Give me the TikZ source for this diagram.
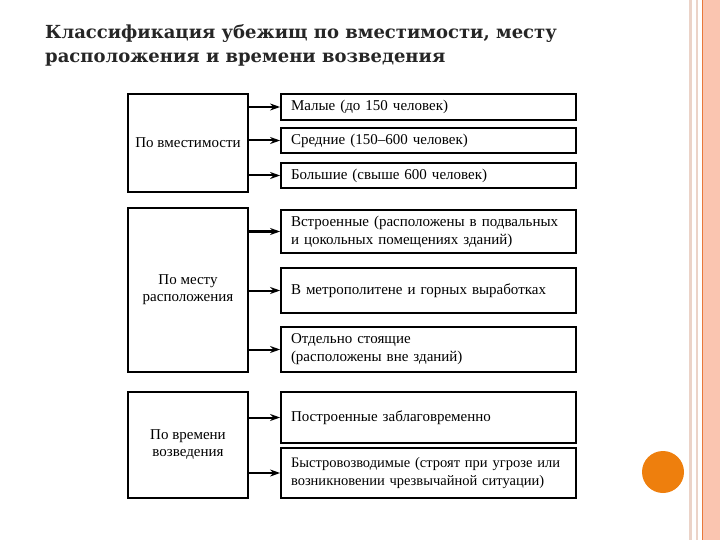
\documentclass[tikz,border=0pt]{standalone}
\usepackage{fontspec}
\setmainfont{Liberation Serif}
\newfontfamily\titlefont{DejaVu Serif}
\usetikzlibrary{arrows.meta}

\definecolor{titlegray}{HTML}{262626}
\definecolor{dotorange}{HTML}{EE7F0D}
\definecolor{stripetan}{HTML}{EBD3C8}
\definecolor{stripeline}{HTML}{E8783A}
\definecolor{stripefill}{HTML}{FAC5B0}

\begin{document}
\begin{tikzpicture}[x=1pt,y=-1pt,
    cat/.style={draw,line width=1.3pt,minimum width=120pt,align=center,
      font=\fontsize{15}{17}\selectfont,inner sep=2pt},
    kind/.style={draw,line width=1.8pt,minimum width=295pt,text width=275pt,
      align=left,inner xsep=10pt,font=\fontsize{15}{18}\selectfont},
    arr/.style={line width=2pt,-{Stealth[length=10pt,width=7pt]}}]
    \useasboundingbox (0,0) rectangle (720,540);

    \fill[stripefill] (703,0) rectangle (720,540);
    \fill[stripetan] (689,0) rectangle (691.5,540);
    \fill[stripetan] (695.5,0) rectangle (698,540);
    \draw[stripeline,line width=1.2pt] (702.5,0) -- (702.5,540);
    \fill[dotorange] (663,472) circle (21);

    \node[anchor=base west,font=\titlefont\bfseries\fontsize{18}{24}\selectfont,
      text=titlegray,inner sep=0pt] (title1) at (45,39)
      {Классификация убежищ по вместимости, месту};
    \node[anchor=base west,font=\titlefont\bfseries\fontsize{18}{24}\selectfont,
      text=titlegray,inner sep=0pt] (title2) at (45,63)
      {расположения и времени возведения};

    \node[cat,minimum height=98pt] (cap) at (188,143) {По вместимости};
    \node[kind,minimum height=26pt] (small) at (428.5,107) {Малые (до 150 человек)};
    \node[kind,minimum height=25pt] (mid) at (428.5,140.5) {Средние (150--600 человек)};
    \node[kind,minimum height=25pt] (big) at (428.5,175.5) {Большие (свыше 600 человек)};
    \draw[arr] (cap.east |- small.west) to (small.west);
    \draw[arr] (cap.east |- mid.west) to (mid.west);
    \draw[arr] (cap.east |- big.west) to (big.west);

    \node[cat,minimum height=164pt] (place) at (188,290) {По месту\\расположения};
    \node[kind,minimum height=43pt] (built) at (428.5,231.5)
      {Встроенные (расположены в подвальных\\и цокольных помещениях зданий)};
    \node[kind,minimum height=45pt] (metro) at (428.5,290.5)
      {В метрополитене и горных выработках};
    \node[kind,minimum height=45pt] (apart) at (428.5,349.5)
      {Отдельно стоящие\\(расположены вне зданий)};
    \draw[arr] (place.east |- built.west) to (built.west);
    \draw[arr] (place.east |- metro.west) to (metro.west);
    \draw[arr] (place.east |- apart.west) to (apart.west);

    \node[cat,minimum height=106pt] (time) at (188,445) {По времени\\возведения};
    \node[kind,minimum height=51pt] (early) at (428.5,417.5)
      {Построенные заблаговременно};
    \node[kind,minimum height=50pt,font=\fontsize{14.5}{18}\selectfont] (fast) at (428.5,473)
      {\mbox{Быстровозводимые (строят при угрозе или}\\возникновении чрезвычайной ситуации)};
    \draw[arr] (time.east |- early.west) to (early.west);
    \draw[arr] (time.east |- fast.west) to (fast.west);
\end{tikzpicture}
\end{document}
